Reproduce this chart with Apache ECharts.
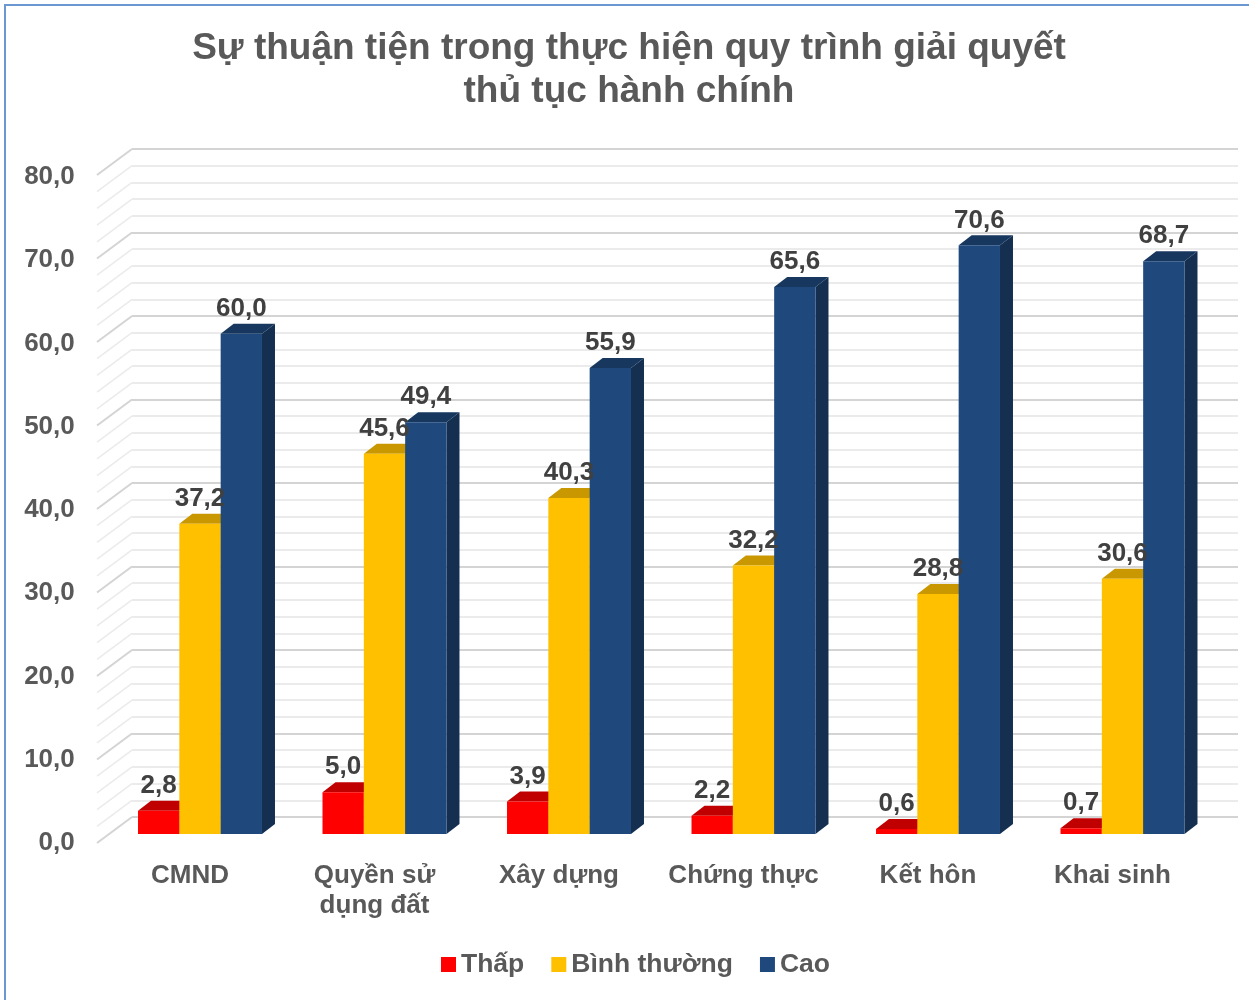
<!DOCTYPE html>
<html>
<head>
<meta charset="utf-8">
<script src="https://cdn.jsdelivr.net/npm/echarts@6/dist/echarts.min.js"></script>
<style>
  html, body { margin: 0; padding: 0; background: #fff; }
  #chart { width: 1249px; height: 1000px; }
</style>
</head>
<body>
<div id="chart"></div>
<script>
// dữ liệu biểu đồ
var categories = ['CMND', 'Quyền sử\ndụng đất', 'Xây dựng', 'Chứng thực', 'Kết hôn', 'Khai sinh']
var seriesNames = ['Thấp', 'Bình thường', 'Cao']
var thap = [2.8, 5.0, 3.9, 2.2, 0.6, 0.7]
var binhThuong = [37.2, 45.6, 40.3, 32.2, 28.8, 30.6]
var cao = [60.0, 49.4, 55.9, 65.6, 70.6, 68.7]
var yMin = 0
var yMax = 80

// màu: mặt trước, mặt trên, mặt bên
var faceColors = [
  ['#FF0000', '#C00000', '#A00000'],
  ['#FFC000', '#C99700', '#A67C00'],
  ['#1F497D', '#17375E', '#152F50']
]

// các vạch lưới (mỗi 2 đơn vị)
var gridTicks = []
for (var t = yMin; t <= yMax; t += 2) gridTicks.push(t)

var fontFam = '"Liberation Sans", Arial, sans-serif'
var depthX = 13
var depthY = -10
var barRatio = 0.224

function fmt(v) {
  return v.toFixed(1).replace('.', ',')
}

function renderBar(k) {
  return function(params, api) {
    var idx = api.value(0)
    var v = api.value(1)
    var top = api.coord([idx, v])
    var base = api.coord([idx, 0])
    var band = api.size([1, 0])[0]
    var w = band * barRatio
    var x0 = top[0] - 1.5 * w + k * w
    var yt = top[1]
    var yb = base[1]
    var c = faceColors[k]
    return {
      type: 'group',
      children: [
        {
          type: 'polygon',
          shape: { points: [[x0 + w, yt], [x0 + w + depthX, yt + depthY], [x0 + w + depthX, yb + depthY], [x0 + w, yb]] },
          style: { fill: c[2] }
        },
        {
          type: 'polygon',
          shape: { points: [[x0, yt], [x0 + depthX, yt + depthY], [x0 + w + depthX, yt + depthY], [x0 + w, yt]] },
          style: { fill: c[1] }
        },
        {
          type: 'rect',
          shape: { x: x0, y: yt, width: w, height: yb - yt },
          style: { fill: c[0] }
        },
        {
          type: 'text',
          z2: 10,
          style: {
            x: x0 + w / 2,
            y: yt - 12,
            text: fmt(v),
            align: 'center',
            verticalAlign: 'bottom',
            fill: '#404040',
            font: 'bold 26px ' + fontFam
          }
        }
      ]
    }
  }
}

// đường chéo của lưới 3D
function renderDiag(params, api) {
  var v = api.value(0)
  var p = api.coord([0, v])
  var major = v % 10 === 0
  return {
    type: 'group',
    children: [
      {
        type: 'line',
        shape: { x1: p[0], y1: p[1], x2: p[0] - 35, y2: p[1] + 26 },
        style: { stroke: major ? '#D4D4D4' : '#EBEBEB', lineWidth: major ? 2 : 1.5 }
      }
    ]
  }
}

var chart = echarts.init(document.getElementById('chart'))

var allSeries = [
  {
    type: 'custom',
    xAxisIndex: 0,
    yAxisIndex: 0,
    renderItem: renderDiag,
    data: gridTicks.map(function(t) { return [t] }),
    encode: { y: 0 },
    silent: true,
    z: 1
  }
]
var valueLists = [thap, binhThuong, cao]
seriesNames.forEach(function(name, k) {
  allSeries.push({
    name: name,
    type: 'custom',
    xAxisIndex: 1,
    yAxisIndex: 1,
    renderItem: renderBar(k),
    itemStyle: { color: faceColors[k][0] },
    data: valueLists[k].map(function(v, i) { return [i, v] }),
    encode: { x: 0, y: 1 },
    z: 5
  })
})

chart.setOption({
  backgroundColor: '#fff',
  animation: false,
  graphic: [
    {
      type: 'rect',
      shape: { x: 5, y: 5, width: 1300, height: 1100 },
      style: { fill: null, stroke: '#6B98D2', lineWidth: 2 }
    }
  ],
  title: {
    text: 'Sự thuận tiện trong thực hiện quy trình giải quyết\nthủ tục hành chính',
    left: 624,
    textAlign: 'center',
    top: 22,
    textStyle: {
      fontFamily: fontFam,
      fontWeight: 'bold',
      fontSize: 37,
      lineHeight: 43,
      color: '#595959'
    }
  },
  legend: {
    bottom: 17,
    left: 436,
    icon: 'rect',
    itemWidth: 15,
    itemHeight: 15,
    itemGap: 27,
    data: seriesNames,
    textStyle: {
      fontFamily: fontFam,
      fontWeight: 'bold',
      fontSize: 26.5,
      color: '#595959'
    }
  },
  grid: [
    // tường sau
    { left: 132, right: 11, top: 149, bottom: 183 },
    // cột
    { left: 107.75, right: 34.25, top: 167, bottom: 166 },
    // mặt trước (nhãn trục)
    { left: 97.75, right: 44.25, top: 177, bottom: 157 }
  ],
  xAxis: [
    { gridIndex: 0, type: 'value', min: 0, max: 1, show: false },
    { gridIndex: 1, type: 'category', data: categories, show: false },
    {
      gridIndex: 2,
      type: 'category',
      data: categories,
      axisLine: { show: false },
      axisTick: { show: false },
      axisLabel: {
        margin: 18,
        interval: 0,
        fontFamily: fontFam,
        fontWeight: 'bold',
        fontSize: 26,
        lineHeight: 30,
        color: '#595959'
      }
    }
  ],
  yAxis: [
    {
      gridIndex: 0,
      type: 'value',
      min: yMin,
      max: yMax,
      interval: 2,
      axisLine: { show: false },
      axisTick: { show: false },
      axisLabel: { show: false },
      splitLine: {
        show: true,
        lineStyle: {
          color: ['#D4D4D4', '#EBEBEB', '#EBEBEB', '#EBEBEB', '#EBEBEB'],
          width: 2
        }
      }
    },
    { gridIndex: 1, type: 'value', min: yMin, max: yMax, show: false },
    {
      gridIndex: 2,
      type: 'value',
      min: yMin,
      max: yMax,
      interval: 10,
      axisLine: { show: false },
      axisTick: { show: false },
      splitLine: { show: false },
      axisLabel: {
        margin: 23,
        formatter: function(v) { return fmt(v) },
        fontFamily: fontFam,
        fontWeight: 'bold',
        fontSize: 26,
        color: '#595959'
      }
    }
  ],
  series: allSeries
})
</script>
</body>
</html>
